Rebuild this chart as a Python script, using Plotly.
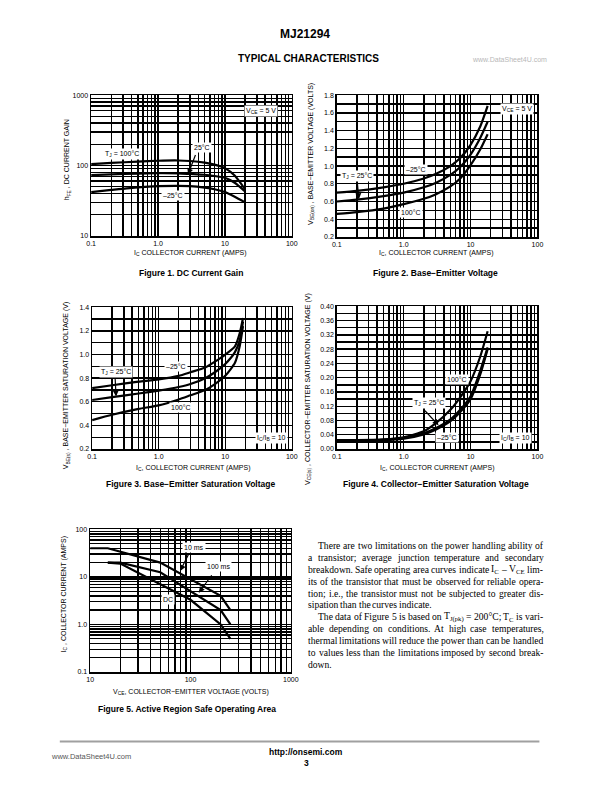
import math
import plotly.graph_objects as go

W, H = 612, 792
FONT = "Liberation Sans, Arial, Helvetica, sans-serif"
SERIF = "Liberation Serif, Times New Roman, serif"

# ---------------- data ----------------
# Figure 1: DC current gain
fig1_ic = [0.1, 0.2, 0.5, 1, 2, 3, 5, 7, 10, 14, 20]
fig1_hfe_100c = [105, 109, 114, 117, 118, 116, 110, 103, 92, 72, 46]
fig1_hfe_25c = [73, 75, 77, 78, 77.5, 76, 74, 71, 67, 57, 43]
fig1_hfe_m25c = [42, 45, 49, 51, 51.5, 51, 48.5, 46, 42, 36, 30]
fig1_xtick_labels = ["0.1", "1.0", "10", "100"]
fig1_ytick_labels = ["10", "100", "1000"]

# Figure 2: base-emitter voltage
fig2_ic = [0.1, 0.2, 0.5, 1, 2, 3, 5, 7, 10, 14, 18]
fig2_vbe_m25c = [0.70, 0.72, 0.76, 0.80, 0.86, 0.91, 1.00, 1.09, 1.24, 1.45, 1.68]
fig2_vbe_25c = [0.60, 0.62, 0.66, 0.70, 0.76, 0.81, 0.90, 0.99, 1.13, 1.32, 1.50]
fig2_vbe_100c = [0.46, 0.48, 0.52, 0.57, 0.63, 0.68, 0.77, 0.86, 1.01, 1.19, 1.36]
fig2_xtick_labels = ["0.1", "1.0", "10", "100"]
fig2_ytick_labels = ["0.2", "0.4", "0.6", "0.8", "1.0", "1.2", "1.4", "1.6", "1.8"]

# Figure 3: base-emitter saturation voltage
fig3_ic = [0.1, 0.2, 0.5, 1, 2, 3, 5, 7, 10, 14, 16.5, 18.5]
fig3_vbe_m25c = [0.715, 0.74, 0.77, 0.79, 0.82, 0.85, 0.89, 0.94, 1.00, 1.07, 1.18, 1.31]
fig3_vbe_25c = [0.615, 0.64, 0.67, 0.695, 0.725, 0.75, 0.80, 0.85, 0.92, 1.02, 1.12, 1.28]
fig3_vbe_100c = [0.445, 0.49, 0.54, 0.57, 0.62, 0.655, 0.70, 0.75, 0.82, 0.93, 1.07, 1.24]
fig3_xtick_labels = ["0.1", "1.0", "10", "100"]
fig3_ytick_labels = ["0.2", "0.4", "0.6", "0.8", "1.0", "1.2", "1.4"]

# Figure 4: collector-emitter saturation voltage
fig4_ic = [0.1, 0.2, 0.5, 1, 2, 3, 5, 7, 10, 14, 18]
fig4_vce_100c = [0.025, 0.025, 0.027, 0.033, 0.050, 0.072, 0.110, 0.145, 0.190, 0.260, 0.330]
fig4_vce_25c = [0.025, 0.025, 0.026, 0.031, 0.044, 0.058, 0.083, 0.110, 0.148, 0.220, 0.285]
fig4_vce_m25c = [0.024, 0.024, 0.025, 0.029, 0.041, 0.054, 0.078, 0.104, 0.140, 0.210, 0.280]
fig4_xtick_labels = ["0.1", "1.0", "10", "100"]
fig4_ytick_labels = ["0.00", "0.04", "0.08", "0.12", "0.16", "0.20",
                     "0.24", "0.28", "0.32", "0.36", "0.40"]

# Figure 5: safe operating area
fig5_vce_10ms = [10, 15, 50, 200, 250]
fig5_ic_10ms = [40, 40, 20, 4, 2]
fig5_vce_100ms = [15, 20, 50, 200, 250]
fig5_ic_100ms = [20, 20, 12.5, 2, 1]
fig5_vce_dc = [15, 20, 50, 100, 200, 250]
fig5_ic_dc = [20, 19, 7, 3.3, 1.0, 0.5]
fig5_xtick_labels = ["10", "100", "1000"]
fig5_ytick_labels = ["0.1", "1.0", "10", "100"]

para_lines = [
    "There are two limitations on the power handling ability of",
    "a transistor; average junction temperature and secondary",
    "breakdown. Safe operating area curves indicate I<sub>C</sub> – V<sub>CE</sub> lim-",
    "its of the transistor that must be observed for reliable opera-",
    "tion; i.e., the transistor must not be subjected to greater dis-",
    "sipation than the curves indicate.",
    "The data of Figure 5 is based on T<sub>J(pk)</sub> = 200°C; T<sub>C</sub> is vari-",
    "able depending on conditions. At high case temperatures,",
    "thermal limitations will reduce the power than can be handled",
    "to values less than the limitations imposed by second break-",
    "down.",
]
para_indent = [True, False, False, False, False, False, True, False, False, False, False]
para_justify = [True, True, True, True, True, False, True, True, True, True, False]

# ---------------- helpers ----------------
fig = go.Figure()
layout = {}
ann = []
GRID_W = 1.4


def log_grid(lo_exp, hi_exp):
    vals = []
    for e in range(lo_exp, hi_exp):
        for m in range(1, 10):
            vals.append(round(m * 10 ** e, 10))
    vals.append(round(10 ** hi_exp, 10))
    return vals


def lin_grid(lo, hi, step):
    n = int(round((hi - lo) / step))
    return [round(lo + i * step, 6) for i in range(n + 1)]


def make_axis(domain, anchor, grid, labels, typ, rng):
    return dict(domain=domain, anchor=anchor, type=typ, range=rng,
                tickmode="array", tickvals=[float(s) for s in labels], ticktext=labels,
                showgrid=True, gridcolor="black", gridwidth=GRID_W,
                minor=dict(tickmode="array", tickvals=grid, showgrid=True,
                           gridcolor="black", gridwidth=GRID_W, ticks=""),
                showline=True, linecolor="black", linewidth=1.6, mirror=True,
                ticks="", zeroline=False, fixedrange=True,
                tickfont=dict(family=FONT, size=7, color="black"))


def add_panel(idx, box, xgrid, xlabels, xtype, xrng, ygrid, ylabels, ytype, yrng):
    x0, y0, x1, y1 = box
    sfx = "" if idx == 1 else str(idx)
    layout["xaxis" + sfx] = make_axis([x0 / W, x1 / W], "y" + sfx, xgrid, xlabels, xtype, xrng)
    layout["yaxis" + sfx] = make_axis([1 - y1 / H, 1 - y0 / H], "x" + sfx, ygrid, ylabels, ytype, yrng)
    return sfx


def add_curve(sfx, x, y, shape="spline"):
    fig.add_trace(go.Scatter(x=x, y=y, mode="lines", xaxis="x" + sfx, yaxis="y" + sfx,
                             line=dict(color="black", width=2.2, shape=shape, smoothing=0.6),
                             hoverinfo="skip", showlegend=False))


def text(x, y, s, size=7, bold=False, bg=None, xanchor="center", angle=0,
         family=FONT, color="black"):
    if bold:
        s = "<b>" + s + "</b>"
    d = dict(x=x / W, y=1 - y / H, xref="paper", yref="paper", text=s, showarrow=False,
             xanchor=xanchor, yanchor="middle", textangle=angle, borderpad=0,
             font=dict(family=family, size=size, color=color))
    if bg:
        d["bgcolor"] = bg
        d["borderpad"] = 1
    ann.append(d)


def arrow(x0, y0, x1, y1):
    ann.append(dict(x=x1 / W, y=1 - y1 / H, xref="paper", yref="paper",
                    ax=x0 - x1, ay=y0 - y1, text="", showarrow=True,
                    arrowhead=2, arrowsize=1, arrowwidth=1.2, arrowcolor="black"))


# ---------------- panels ----------------
s1 = add_panel(1, (88, 92, 293, 234), log_grid(-1, 2), fig1_xtick_labels, "log", [-1, 2],
               log_grid(1, 3), fig1_ytick_labels, "log", [1, 3])
add_curve(s1, fig1_ic, fig1_hfe_100c)
add_curve(s1, fig1_ic, fig1_hfe_25c)
add_curve(s1, fig1_ic, fig1_hfe_m25c)

s2 = add_panel(2, (339, 92, 544, 235), log_grid(-1, 2), fig2_xtick_labels, "log", [-1, 2],
               lin_grid(0.2, 1.8, 0.1), fig2_ytick_labels, "linear", [0.2, 1.8])
add_curve(s2, fig2_ic, fig2_vbe_m25c)
add_curve(s2, fig2_ic, fig2_vbe_25c)
add_curve(s2, fig2_ic, fig2_vbe_100c)

s3 = add_panel(3, (89, 306, 293, 449), log_grid(-1, 2), fig3_xtick_labels, "log", [-1, 2],
               lin_grid(0.2, 1.4, 0.1), fig3_ytick_labels, "linear", [0.2, 1.4])
add_curve(s3, fig3_ic, fig3_vbe_m25c)
add_curve(s3, fig3_ic, fig3_vbe_25c)
add_curve(s3, fig3_ic, fig3_vbe_100c)

s4 = add_panel(4, (339, 305, 544, 449), log_grid(-1, 2), fig4_xtick_labels, "log", [-1, 2],
               lin_grid(0.0, 0.40, 0.02), fig4_ytick_labels, "linear", [0, 0.40])
add_curve(s4, fig4_ic, fig4_vce_100c)
add_curve(s4, fig4_ic, fig4_vce_25c)
add_curve(s4, fig4_ic, fig4_vce_m25c)

s5 = add_panel(5, (87, 530, 292, 674), log_grid(1, 3), fig5_xtick_labels, "log", [1, 3],
               log_grid(-1, 2), fig5_ytick_labels, "log", [-1, 2])
add_curve(s5, fig5_vce_10ms, fig5_ic_10ms, shape="linear")
add_curve(s5, fig5_vce_100ms, fig5_ic_100ms, shape="linear")
add_curve(s5, fig5_vce_dc, fig5_ic_dc, shape="linear")

# ---------------- in-plot labels ----------------
text(262, 108, "V<sub>CE</sub> = 5 V", bg="white")
text(120, 151, "T<sub>J</sub> = 100°C", bg="white")
text(201, 145, "25°C", bg="white")
arrow(195, 151, 187, 172)
text(172, 193, "–25°C", bg="white")

text(523, 106, "V<sub>CE</sub> = 5 V", bg="white")
text(420, 167, "–25°C", bg="white")
text(360, 174, "T<sub>J</sub> = 25°C", bg="white")
arrow(360, 180, 361.5, 197)
text(415, 210, "100°C", bg="white")

text(175, 366, "–25°C", bg="white")
text(113, 371, "T<sub>J</sub> = 25°C", bg="white")
arrow(112.5, 377, 113.5, 396)
text(180, 407, "100°C", bg="white")
text(272, 438, "I<sub>C</sub>/I<sub>B</sub> = 10", bg="white")

text(462, 379, "100°C", bg="white")
text(433, 403, "T<sub>J</sub> = 25°C", bg="white")
arrow(428, 409, 443, 425)
text(452, 437, "–25°C", bg="white")
text(522, 438, "I<sub>C</sub>/I<sub>B</sub> = 10", bg="white")

text(193, 548, "10 ms", bg="white")
arrow(188, 554, 179, 572)
text(218, 568, "100 ms", bg="white")
arrow(212, 575, 198, 594)
text(167, 601, "DC", bg="white")

# ---------------- axis titles ----------------
text(190, 251, "I<sub>C</sub> COLLECTOR CURRENT (AMPS)")
text(441, 251, "I<sub>C</sub>, COLLECTOR CURRENT (AMPS)")
text(193, 468, "I<sub>C</sub>, COLLECTOR CURRENT (AMPS)")
text(442, 468, "I<sub>C</sub>, COLLECTOR CURRENT (AMPS)")
text(190, 694, "V<sub>CE</sub>, COLLECTOR−EMITTER VOLTAGE (VOLTS)")

text(63, 157, "h<sub>FE</sub> , DC CURRENT GAIN", angle=-90)
text(312, 151, "V<sub>BE(on)</sub> , BASE−EMITTER VOLTAGE (VOLTS)", angle=-90)
text(62, 385, "V<sub>BE(s)</sub> , BASE−EMITTER SATURATION VOLTAGE (V)", angle=-90)
text(309, 388, "V<sub>CE(s)</sub> , COLLECTOR−EMITTER SATURATION VOLTAGE (V)", angle=-90)
text(60, 596, "I<sub>C</sub> , COLLECTOR CURRENT (AMPS)", angle=-90)

# ---------------- captions / header / footer ----------------
text(190, 271, "Figure 1. DC Current Gain", size=8.5, bold=True)
text(440, 271, "Figure 2. Base−Emitter Voltage", size=8.5, bold=True)
text(190, 484, "Figure 3. Base−Emitter Saturation Voltage", size=8.5, bold=True)
text(440, 484, "Figure 4. Collector−Emitter Saturation Voltage", size=8.5, bold=True)
text(186, 711, "Figure 5. Active Region Safe Operating Area", size=8.5, bold=True)

text(306, 30, "MJ21294", size=12, bold=True)
text(310, 55, "TYPICAL CHARACTERISTICS", size=10, bold=True)
text(515, 56, "www.DataSheet4U.com", size=7, color="#b8b8b8")

text(88, 759, "www.DataSheet4U.com", size=7.5, color="#555555")
text(308, 755, "http://onsemi.com", size=8.5, bold=True)
text(308, 766, "3", size=8.5, bold=True)

shapes = [dict(type="line", xref="paper", yref="paper", x0=56 / W, x1=546 / W,
               y0=1 - 744 / H, y1=1 - 744 / H, line=dict(color="#a0a0a0", width=2))]

# ---------------- justified paragraph ----------------
TIMES = {" ": 250, "!": 333, "(": 333, ")": 333, ",": 250, "-": 333, ".": 250,
         ":": 278, ";": 278, "=": 564, "–": 500, "°": 400}
for ch in "0123456789":
    TIMES[ch] = 500
TIMES.update(dict(A=722, B=667, C=667, D=722, E=611, F=556, G=722, H=722, I=333, J=389,
                  K=722, L=611, M=889, N=722, O=722, P=556, Q=722, R=667, S=556, T=611,
                  U=722, V=722, W=944, X=722, Y=722, Z=611))
TIMES.update(dict(a=444, b=500, c=444, d=500, e=444, f=333, g=500, h=500, i=278, j=278,
                  k=500, l=278, m=778, n=500, o=500, p=500, q=500, r=333, s=389, t=278,
                  u=500, v=500, w=722, x=500, y=500, z=444))

PSIZE = 9.6


def tw(s, size):
    total, scale, i = 0.0, 1.0, 0
    while i < len(s):
        if s.startswith("<sub>", i):
            scale, i = 0.7, i + 5
            continue
        if s.startswith("</sub>", i):
            scale, i = 1.0, i + 6
            continue
        total += TIMES.get(s[i], 500) * scale
        i += 1
    return total * size / 1000.0


left, right, indent = 308.5, 548.3, 319.0
for k, line in enumerate(para_lines):
    y = 546 + k * 12.07
    words = line.split(" ")
    x0 = indent if para_indent[k] else left
    widths = [tw(w, PSIZE) for w in words]
    if para_justify[k] and len(words) > 1:
        gap = (right - x0 - sum(widths)) / (len(words) - 1)
    else:
        gap = tw(" ", PSIZE)
    x = x0
    for w, wd in zip(words, widths):
        text(x, y, w, size=PSIZE, family=SERIF, xanchor="left")
        x += wd + gap

layout.update(dict(width=W, height=H, margin=dict(l=0, r=0, t=0, b=0),
                   paper_bgcolor="white", plot_bgcolor="white",
                   showlegend=False, annotations=ann, shapes=shapes))
fig.update_layout(**layout)
fig.write_html("out.html", config={"displayModeBar": False, "staticPlot": True},
               post_script="document.body.style.margin='0px';")
